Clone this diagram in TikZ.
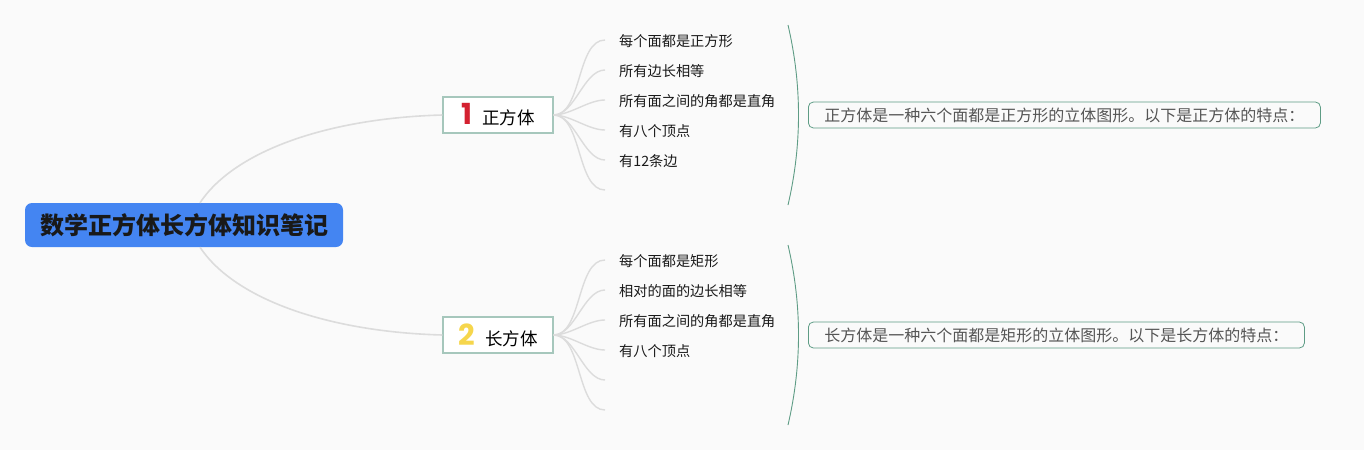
\documentclass[tikz,border=0pt]{standalone}
\usepackage{fontspec}
\setmainfont{Noto Sans CJK SC}
\newfontfamily\numfont{Poppins}
\usetikzlibrary{positioning}
\definecolor{bgcolor}{HTML}{FAFAFA}
\definecolor{rootblue}{HTML}{4485F2}
\definecolor{linegray}{HTML}{DCDCDC}
\definecolor{topicgreen}{HTML}{A6C7BC}
\definecolor{bracegreen}{HTML}{5E9C85}
\definecolor{cubered}{HTML}{D42130}
\definecolor{cuboidyellow}{HTML}{F6D64C}
\definecolor{notegray}{HTML}{555555}

\begin{document}
\begin{tikzpicture}[
        x=1pt, y=-1pt,
        root/.style={rectangle, rounded corners=7pt, fill=rootblue, minimum width=318pt, minimum height=44pt, font=\fontsize{24}{27}\selectfont\bfseries, text=black!90},
        topic/.style={rectangle, draw=topicgreen, line width=1.2pt, fill=white, minimum width=110pt, minimum height=36pt, font=\fontsize{17.5}{20}\selectfont},
        item/.style={anchor=west, inner xsep=14pt, inner ysep=2pt, font=\fontsize{14.2}{16}\selectfont, text=black!90},
        note/.style={rectangle, draw=bracegreen, rounded corners=5pt, line width=0.8pt, anchor=west, inner xsep=16pt, minimum height=26pt, font=\fontsize{16}{18}\selectfont, text=notegray},
        branch/.style={draw=linegray, line width=1.6pt},
        twig/.style={draw=linegray, line width=1.4pt},
        brace/.style={draw=bracegreen, line width=0.9pt}
    ]

        % Background
        \fill[bgcolor] (0,0) rectangle (1364,450);

        % Define nodes
        \node (root) [root] at (184,225) {数学正方体长方体知识笔记};
        \node (cube) [topic] at (498,115) {{\numfont\bfseries\fontsize{29}{30}\selectfont\color{cubered}1}\hspace{10pt}正方体};
        \node (cuboid) [topic] at (498,335) {{\numfont\bfseries\fontsize{29}{30}\selectfont\color{cuboidyellow}2}\hspace{10pt}长方体};

        \node (cubeA) [item] at (605,41.5) {每个面都是正方形};
        \node (cubeB) [item] at (605,71.5) {所有边长相等};
        \node (cubeC) [item] at (605,101.5) {所有面之间的角都是直角};
        \node (cubeD) [item] at (605,131.5) {有八个顶点};
        \node (cubeE) [item] at (605,161.5) {有12条边};
        \coordinate (cubeF) at (605,190);

        \node (cuboidA) [item] at (605,261.5) {每个面都是矩形};
        \node (cuboidB) [item] at (605,291.5) {相对的面的边长相等};
        \node (cuboidC) [item] at (605,321.5) {所有面之间的角都是直角};
        \node (cuboidD) [item] at (605,351.5) {有八个顶点};
        \coordinate (cuboidE) at (605,380);
        \coordinate (cuboidF) at (605,410);

        \node (cubeNote) [note] at (808,115) {正方体是一种六个面都是正方形的立体图形。以下是正方体的特点：};
        \node (cuboidNote) [note] at (808,335) {长方体是一种六个面都是矩形的立体图形。以下是长方体的特点：};

        % Draw branches
        \draw [branch] ([xshift=16pt]root.north) .. controls (235,150) and (330,118) .. (cube.west);
        \draw [branch] ([xshift=16pt]root.south) .. controls (235,300) and (330,332) .. (cuboid.west);

        \foreach \k in {A,B,C,D,E}
            \draw [twig] (cube.east) to[out=0, in=180, looseness=0.8] ([yshift=1.5pt]cube\k.west);
        \draw [twig] (cube.east) to[out=0, in=180, looseness=0.8] (cubeF);

        \foreach \k in {A,B,C,D}
            \draw [twig] (cuboid.east) to[out=0, in=180, looseness=0.8] ([yshift=1.5pt]cuboid\k.west);
        \draw [twig] (cuboid.east) to[out=0, in=180, looseness=0.8] (cuboidE);
        \draw [twig] (cuboid.east) to[out=0, in=180, looseness=0.8] (cuboidF);

        % Summary braces
        \draw [brace] (788,25) .. controls (802,85) and (802,145) .. (788,205);
        \draw [brace] (788,245) .. controls (802,305) and (802,365) .. (788,425);
    \end{tikzpicture}
\end{document}
